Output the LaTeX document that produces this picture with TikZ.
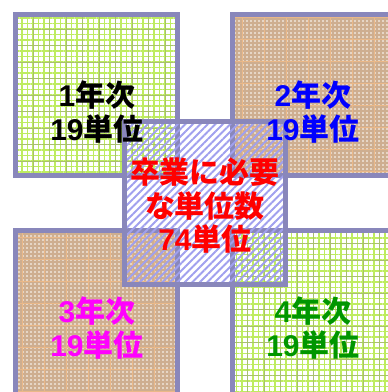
\documentclass[tikz,border=0pt]{standalone}
\usepackage{fontspec}
\newfontfamily\jpfont{Noto Sans CJK JP}
\newfontfamily\numfont{Liberation Sans}
\usetikzlibrary{patterns.meta}
\definecolor{frame}{RGB}{137,135,187}
\definecolor{gridgreen}{RGB}{190,236,96}
\definecolor{gridolive}{RGB}{168,192,110}
\definecolor{tanbase}{RGB}{206,174,144}
\definecolor{tanline}{RGB}{234,184,136}
\definecolor{hatchblue}{RGB}{160,160,238}
\definecolor{yeargreen}{RGB}{0,150,0}
\definecolor{yearpink}{RGB}{255,0,255}
\newcommand{\num}[1]{{\numfont #1}}
\tikzset{
  box/.style = {line width=5pt, draw=frame},
  greensq/.style = {box, preaction={fill=white},
    preaction={pattern={Hatch[distance=5.5pt, line width=1.6pt]}, pattern color=gridgreen},
    preaction={pattern={Hatch[distance=16.5pt, line width=0.8pt]}, pattern color=gridolive}},
  brownsq/.style = {box, preaction={fill=tanbase},
    preaction={pattern={Dots[distance=4pt, radius=0.8pt]}, pattern color=white},
    preaction={pattern={Hatch[distance=22pt, line width=1pt]}, pattern color=tanline}},
  hatchsq/.style = {box, pattern={Lines[angle=45, distance=5.3pt, line width=2pt]}, pattern color=hatchblue},
  yeartext/.style = {font=\jpfont\bfseries\fontsize{30}{33.5}\selectfont, align=center, inner sep=0pt}
}

\begin{document}
\begin{tikzpicture}[x=1pt, y=-1pt]
\useasboundingbox (0,0) rectangle (388,392);
\clip (0,0) rectangle (388,392);
\draw[greensq] (15.5,14.5) rectangle (177.5,175.5);
\draw[brownsq] (232.5,14.5) rectangle (400,175.5);
\draw[brownsq] (15.5,230.5) rectangle (177.5,400);
\draw[greensq] (232.5,230.5) rectangle (400,400);
\draw[hatchsq] (124.5,121.5) rectangle (285.5,284.5);
\node[yeartext] (first) at (97,112) {\num{1}年次\\\num{19}単位};
\node[yeartext, text=blue] (second) at (313,112) {\num{2}年次\\\num{19}単位};
\node[yeartext, text=yearpink] (third) at (97,328) {\num{3}年次\\\num{19}単位};
\node[yeartext, text=yeargreen] (fourth) at (313,328) {\num{4}年次\\\num{19}単位};
\node[yeartext, text=red] (total) at (205,206) {卒業に必要\\な単位数\\\num{74}単位};
\end{tikzpicture}
\end{document}
